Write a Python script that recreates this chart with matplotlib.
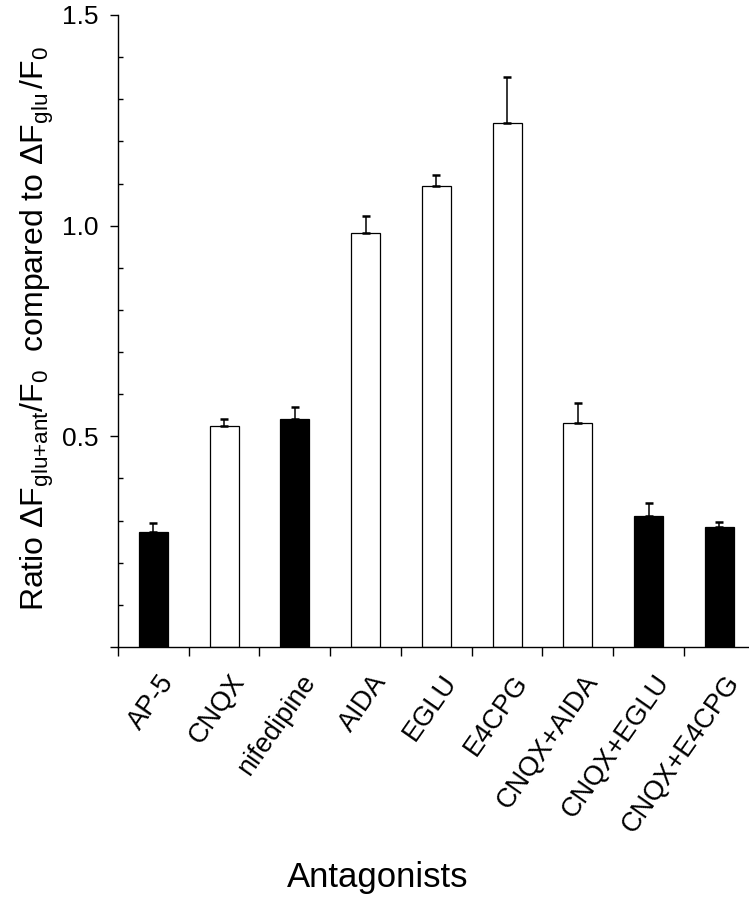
import matplotlib
matplotlib.use("Agg")
import matplotlib.pyplot as plt
import matplotlib.transforms as mtransforms
import numpy as np

categories = ["AP-5", "CNQX", "nifedipine", "AIDA", "EGLU", "E4CPG",
              "CNQX+AIDA", "CNQX+EGLU", "CNQX+E4CPG"]
values = [0.274, 0.525, 0.540, 0.982, 1.093, 1.243, 0.531, 0.312, 0.284]
errors = [0.020, 0.015, 0.029, 0.040, 0.027, 0.110, 0.049, 0.030, 0.013]
filled = [True, False, True, False, False, False, False, True, True]
ytick_vals = [0.0, 0.5, 1.0, 1.5]
ytick_labels = ["", "0.5", "1.0", "1.5"]

plt.rcParams['font.family'] = ['Liberation Sans', 'DejaVu Sans']
plt.rcParams['mathtext.fontset'] = 'custom'
plt.rcParams['mathtext.rm'] = 'Liberation Sans'
plt.rcParams['mathtext.it'] = 'Liberation Sans'

fig = plt.figure(figsize=(7.49, 9.0), dpi=100)
ax = fig.add_axes([118/749, 1 - 647/900, 1 - 118/749 - 0.001, (647 - 15)/900])

x = np.arange(len(categories))
face = ['black' if f else 'white' for f in filled]
ax.bar(x, values, width=0.41, color=face, edgecolor='black', linewidth=0.9, zorder=2)
ax.errorbar(x, values, yerr=[np.zeros(len(values)), errors], fmt='none',
            ecolor='black', elinewidth=1.1, capsize=3, capthick=1.8, zorder=3)

ax.set_xlim(-0.5, 8.41)
ax.set_ylim(0, 1.5)

for s in ['top', 'right']:
    ax.spines[s].set_visible(False)
for s in ['left', 'bottom']:
    ax.spines[s].set_linewidth(1.0)

# y ticks
ax.set_yticks(ytick_vals)
ax.set_yticklabels(ytick_labels, fontsize=19)
ax.set_yticks(np.arange(1, 15) / 10.0, minor=True)
ax.tick_params(axis='y', which='major', direction='out', length=6, width=1.0, pad=8)
ax.tick_params(axis='y', which='minor', direction='in', length=3.5, width=1.0)

# x ticks: boundaries as major, labels as minor
ax.set_xticks(np.arange(-0.5, 8.0, 1.0))
ax.set_xticklabels([])
ax.tick_params(axis='x', which='major', direction='out', length=6.5, width=1.0)
ax.set_xticks(x, minor=True)
ax.set_xticklabels(categories, minor=True, fontsize=19.5, rotation=55,
                   ha='right', va='top', rotation_mode='anchor')
ax.tick_params(axis='x', which='minor', length=0, pad=16.5)
offset = mtransforms.ScaledTranslation(5/100, 0, fig.dpi_scale_trans)
for lab in ax.get_xticklabels(minor=True):
    lab.set_transform(lab.get_transform() + offset)

ax.set_ylabel(r'Ratio $\mathregular{\Delta F_{glu{+}ant}/F_0}$  compared to $\mathregular{\Delta F_{glu}\,/F_0}$',
              fontsize=23)
ax.yaxis.set_label_coords(-0.099, 0.504)
ax.set_xlabel('Antagonists', fontsize=25, va='top')
ax.xaxis.set_label_coords(0.412, -0.338)

fig.savefig('out.png', dpi=100)
